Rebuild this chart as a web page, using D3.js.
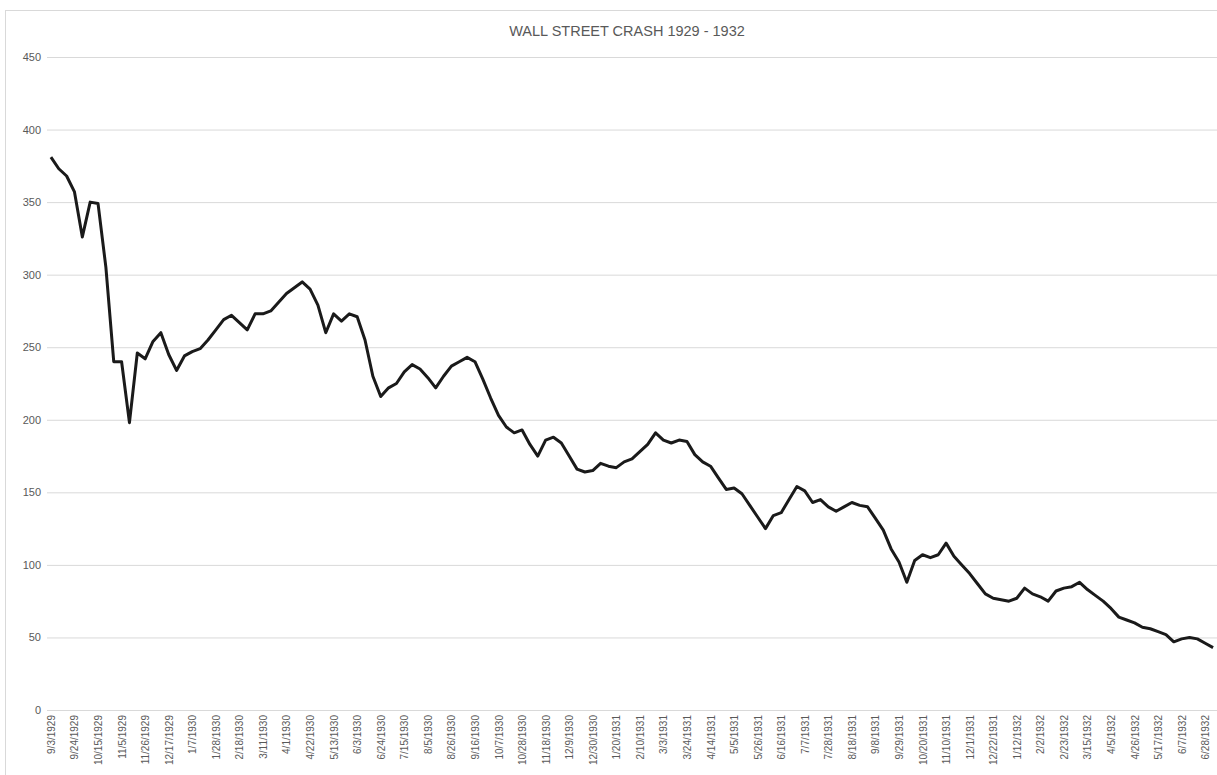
<!DOCTYPE html>
<html>
<head>
<meta charset="utf-8">
<script src="https://cdn.jsdelivr.net/npm/d3@7"></script>
<style>
  body { margin: 0; background: #fff; }
  text { font-family: "Liberation Sans", Arial, sans-serif; }
</style>
</head>
<body>
<svg class="chart" width="1217" height="775"></svg>
<script>
// weekly closing dates (m/d/yyyy), one per point
var weeks = [
  "9/3/1929","9/10/1929","9/17/1929","9/24/1929","10/1/1929","10/8/1929","10/15/1929","10/22/1929","10/29/1929",
  "11/5/1929","11/12/1929","11/19/1929","11/26/1929","12/3/1929","12/10/1929","12/17/1929","12/24/1929","12/31/1929",
  "1/7/1930","1/14/1930","1/21/1930","1/28/1930","2/4/1930","2/11/1930","2/18/1930","2/25/1930","3/4/1930","3/11/1930",
  "3/18/1930","3/25/1930","4/1/1930","4/8/1930","4/15/1930","4/22/1930","4/29/1930","5/6/1930","5/13/1930","5/20/1930",
  "5/27/1930","6/3/1930","6/10/1930","6/17/1930","6/24/1930","7/1/1930","7/8/1930","7/15/1930","7/22/1930","7/29/1930",
  "8/5/1930","8/12/1930","8/19/1930","8/26/1930","9/2/1930","9/9/1930","9/16/1930","9/23/1930","9/30/1930","10/7/1930",
  "10/14/1930","10/21/1930","10/28/1930","11/4/1930","11/11/1930","11/18/1930","11/25/1930","12/2/1930","12/9/1930",
  "12/16/1930","12/23/1930","12/30/1930",
  "1/6/1931","1/13/1931","1/20/1931","1/27/1931","2/3/1931","2/10/1931","2/17/1931","2/24/1931","3/3/1931","3/10/1931",
  "3/17/1931","3/24/1931","3/31/1931","4/7/1931","4/14/1931","4/21/1931","4/28/1931","5/5/1931","5/12/1931","5/19/1931",
  "5/26/1931","6/2/1931","6/9/1931","6/16/1931","6/23/1931","6/30/1931","7/7/1931","7/14/1931","7/21/1931","7/28/1931",
  "8/4/1931","8/11/1931","8/18/1931","8/25/1931","9/1/1931","9/8/1931","9/15/1931","9/22/1931","9/29/1931","10/6/1931",
  "10/13/1931","10/20/1931","10/27/1931","11/3/1931","11/10/1931","11/17/1931","11/24/1931","12/1/1931","12/8/1931",
  "12/15/1931","12/22/1931","12/29/1931",
  "1/5/1932","1/12/1932","1/19/1932","1/26/1932","2/2/1932","2/9/1932","2/16/1932","2/23/1932","3/1/1932","3/8/1932",
  "3/15/1932","3/22/1932","3/29/1932","4/5/1932","4/12/1932","4/19/1932","4/26/1932","5/3/1932","5/10/1932","5/17/1932",
  "5/24/1932","5/31/1932","6/7/1932","6/14/1932","6/21/1932","6/28/1932","7/5/1932"
];

// index values
var closes = [
  381, 373, 368, 357, 326, 350, 349, 305, 240, 240, 198, 246, 242, 254, 260, 245, 234, 244,
  247, 249, 255, 262, 269, 272, 267, 262, 273, 273, 275, 281, 287, 291, 295, 290, 279, 260,
  273, 268, 273, 271, 255, 230, 216, 222, 225, 233, 238, 235, 229, 222, 230, 237, 240, 243,
  240, 228, 215, 203, 195, 191, 193, 183, 175, 186, 188, 184, 175, 166, 164, 165,
  170, 168, 167, 171, 173, 178, 183, 191, 186, 184, 186, 185, 176, 171, 168, 160, 152, 153,
  149, 141, 133, 125, 134, 136, 145, 154, 151, 143, 145, 140, 137, 140, 143, 141, 140, 132,
  124, 111, 102, 88, 103, 107, 105, 107, 115, 106, 100, 94, 87, 80,
  77, 76, 75, 77, 84, 80, 78, 75, 82, 84, 85, 88, 83, 79, 75, 70, 64, 62, 60, 57, 56, 54,
  52, 47, 49, 50, 49, 46, 43
];

var yTicks = [0, 50, 100, 150, 200, 250, 300, 350, 400, 450];
var title = "WALL STREET CRASH 1929 - 1932";

var plotLeft = 47;
var plotRight = 1217;
var plotTop = 57;
var plotBottom = 710;

var svg = d3.select(".chart");

// chart area border
svg.append("rect")
    .attr("x", 5.5)
    .attr("y", 10.5)
    .attr("width", 1240)
    .attr("height", 800)
    .attr("fill", "#fff")
    .attr("stroke", "#d9d9d9");

var x = d3.scalePoint()
    .domain(weeks)
    .range([plotLeft, plotRight])
    .padding(0.5);

var y = d3.scaleLinear()
    .domain([0, 450])
    .range([plotBottom, plotTop]);

// gridlines + y labels
var yAxis = svg.append("g")
    .attr("transform", "translate(" + plotLeft + ",0)")
    .call(d3.axisLeft(y).tickValues(yTicks).tickSize(-(plotRight - plotLeft)).tickPadding(6));
yAxis.select(".domain").remove();
yAxis.selectAll("line").attr("stroke", "#d9d9d9");
yAxis.selectAll("text")
    .attr("fill", "#595959")
    .style("font-size", "11px");

// category axis, every third week labelled
var xAxis = svg.append("g")
    .attr("transform", "translate(0," + plotBottom + ")")
    .call(d3.axisBottom(x).tickValues(weeks.filter(function (d, i) { return i % 3 === 0; })).tickSize(0));
xAxis.select(".domain").attr("stroke", "#d9d9d9");
xAxis.selectAll("text")
    .attr("transform", "rotate(-90)")
    .attr("text-anchor", "end")
    .attr("x", -5)
    .attr("y", 0)
    .attr("dy", "0.35em")
    .attr("fill", "#595959")
    .style("font-size", "10px");

var line = d3.line()
    .x(function (d, i) { return x(weeks[i]); })
    .y(function (d) { return y(d); });

svg.append("path")
    .datum(closes)
    .attr("d", line)
    .attr("fill", "none")
    .attr("stroke", "#1a1a1a")
    .attr("stroke-width", 3)
    .attr("stroke-linejoin", "round");

svg.append("text")
    .attr("x", 627)
    .attr("y", 36)
    .attr("text-anchor", "middle")
    .attr("fill", "#595959")
    .style("font-size", "14.5px")
    .text(title);
</script>
</body>
</html>
